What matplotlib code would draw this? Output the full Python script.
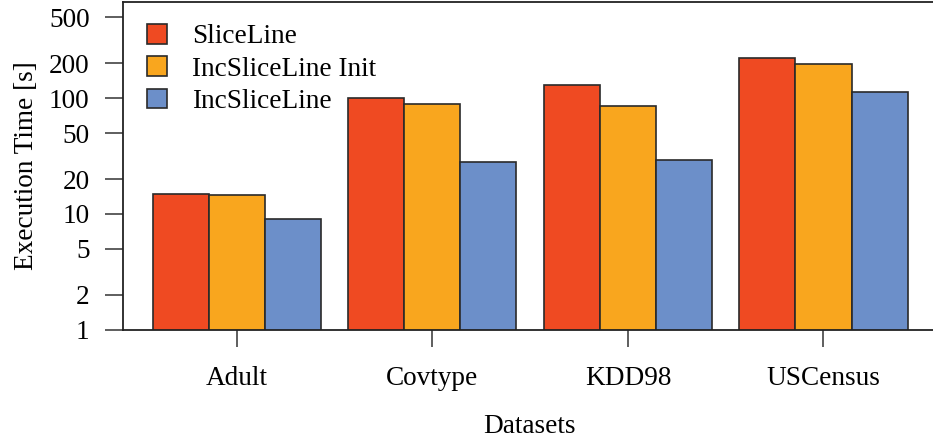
import matplotlib.pyplot as plt
import numpy as np
from matplotlib.ticker import FixedLocator, NullLocator, FixedFormatter

datasets = ['Adult', 'Covtype', 'KDD98', 'USCensus']
series = ['SliceLine', 'IncSliceLine Init', 'IncSliceLine']
sliceline = [14.9, 99.6, 130, 221]
inc_init = [14.6, 89.6, 85, 196]
inc = [9.05, 28.0, 29.0, 113]
colors = ['#EF4A22', '#F9A61E', '#6C8FC9']
yticks = [1, 2, 5, 10, 20, 50, 100, 200, 500]

plt.rcParams['font.family'] = ['Liberation Serif', 'DejaVu Serif']
plt.rcParams['font.size'] = 19.6

fig = plt.figure(figsize=(9.33, 4.37), dpi=100)
ax = fig.add_axes([123 / 933, (437 - 329.5) / 437, 812 / 933, 327.8 / 437])

x = np.arange(len(datasets))
w = 0.2863
for i, (vals, lab) in enumerate(zip([sliceline, inc_init, inc], series)):
    ax.bar(x + (i - 1) * w, vals, w, color=colors[i], edgecolor='#2a2a2a',
           linewidth=1.2, label=lab, zorder=2)

ax.set_yscale('log')
ax.set_ylim(1, 684)
ax.set_xlim(-0.581, 3.570)
ax.yaxis.set_major_locator(FixedLocator(yticks))
ax.yaxis.set_major_formatter(FixedFormatter([str(t) for t in yticks]))
ax.yaxis.set_minor_locator(NullLocator())
ax.set_xticks(x)
ax.set_xticklabels(datasets)

ax.tick_params(axis='y', direction='out', length=13, width=1.1, pad=11, color='#333333')
ax.tick_params(axis='x', direction='out', length=12, width=1.1, pad=14.5, color='#333333')
for s in ax.spines.values():
    s.set_linewidth(1.3)
    s.set_color('#222222')

ax.set_ylabel('Execution Time [s]', labelpad=7)
ax.set_xlabel('Datasets', labelpad=16)

leg = ax.legend(loc='upper left', bbox_to_anchor=(147 / 933, 1 - 24 / 437),
                bbox_transform=fig.transFigure, frameon=False, borderpad=0,
                handlelength=0.75, handleheight=0.75, handletextpad=0.9,
                labelspacing=0.25, borderaxespad=0)

fig.savefig('out.png', dpi=100)
